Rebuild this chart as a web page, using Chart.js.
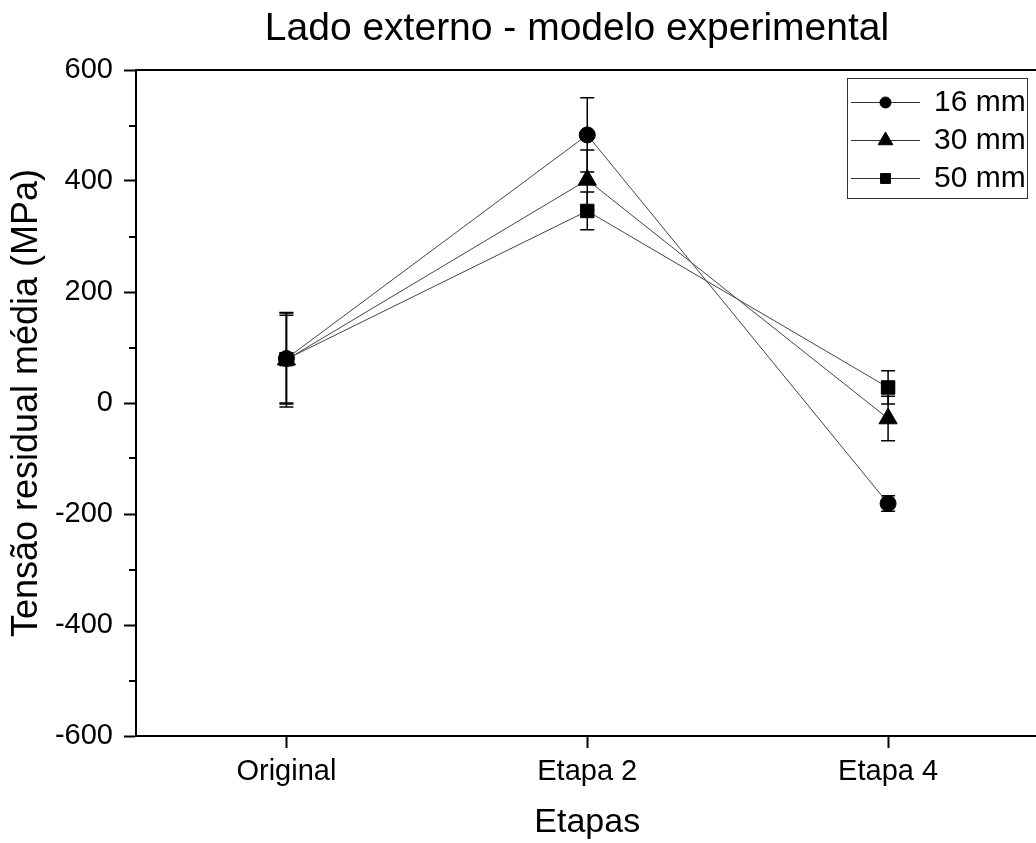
<!DOCTYPE html>
<html>
<head>
<meta charset="utf-8">
<script src="https://cdn.jsdelivr.net/npm/chart.js@4.4.0/dist/chart.umd.min.js"></script>
<style>
  html, body { margin: 0; padding: 0; background: #fff; overflow: hidden; }
  #wrap { width: 1050px; height: 843px; }
</style>
</head>
<body>
<div id="wrap"><canvas id="c" width="1050" height="843"></canvas></div>
<script>
// ---- data ----
const categories = ['Original', 'Etapa 2', 'Etapa 4'];
const seriesLabels = ['16 mm', '30 mm', '50 mm'];
const values16 = [80, 483, -181];
const errors16 = [82, 67, 14];
const values30 = [78, 402, -28];
const errors30 = [85, 54, 40];
const values50 = [79, 346, 28];
const errors50 = [79, 34, 30];
const pointStyles = ['circle', 'triangle', 'rect'];
const yMin = -600, yMax = 600, yMajorStep = 200, yMinorStep = 100;
const titleText = 'Lado externo - modelo experimental';
const xTitleText = 'Etapas';
const yTitleText = 'Tensão residual média (MPa)';

const FONT = "'Liberation Sans', Arial, sans-serif";
const allValues = [values16, values30, values50];
const allErrors = [errors16, errors30, errors50];
const pointRadii = [8, 10.5, 9.5];
const legendRadii = [5.5, 8.5, 7];

const datasets = allValues.map((vals, i) => ({
  label: seriesLabels[i],
  data: vals,
  errors: allErrors[i],
  borderColor: '#444444',
  borderWidth: 1,
  backgroundColor: '#000',
  pointStyle: pointStyles[i],
  pointRadius: pointRadii[i],
  pointBackgroundColor: '#000',
  pointBorderColor: '#000',
  pointBorderWidth: 1,
  tension: 0
}));

const decorPlugin = {
  id: 'decor',
  beforeDatasetsDraw(chart) {
    const ctx = chart.ctx;
    const y = chart.scales.y;
    const a = chart.chartArea;
    ctx.save();
    // minor ticks
    ctx.strokeStyle = '#000';
    ctx.lineWidth = 2;
    for (let v = yMin; v <= yMax; v += yMinorStep) {
      if (v % yMajorStep === 0) continue;
      const py = Math.round(y.getPixelForValue(v));
      ctx.beginPath();
      ctx.moveTo(a.left - 7, py);
      ctx.lineTo(a.left, py);
      ctx.stroke();
    }
    // error bars
    ctx.lineWidth = 1.5;
    chart.data.datasets.forEach((ds, i) => {
      const meta = chart.getDatasetMeta(i);
      ds.data.forEach((v, j) => {
        const e = ds.errors[j];
        const px = meta.data[j].x;
        const yt = y.getPixelForValue(v + e);
        const yb = y.getPixelForValue(v - e);
        ctx.beginPath();
        ctx.moveTo(px, yt); ctx.lineTo(px, yb);
        ctx.moveTo(px - 7, yt); ctx.lineTo(px + 7, yt);
        ctx.moveTo(px - 7, yb); ctx.lineTo(px + 7, yb);
        ctx.stroke();
      });
    });
    ctx.restore();
  },
  afterDraw(chart) {
    const ctx = chart.ctx;
    const a = chart.chartArea;
    ctx.save();
    // top & right frame
    ctx.strokeStyle = '#000';
    ctx.lineWidth = 2;
    ctx.beginPath();
    ctx.moveTo(a.left, a.top);
    ctx.lineTo(a.right, a.top);
    ctx.lineTo(a.right, a.bottom);
    ctx.stroke();

    // titles
    ctx.fillStyle = '#000';
    ctx.textAlign = 'center';
    ctx.textBaseline = 'middle';
    ctx.font = '39px ' + FONT;
    ctx.fillText(titleText, 577, 29);
    ctx.font = '34px ' + FONT;
    ctx.fillText(xTitleText, (a.left + a.right) / 2, 823);
    ctx.save();
    ctx.translate(27, (a.top + a.bottom) / 2);
    ctx.rotate(-Math.PI / 2);
    ctx.font = '36px ' + FONT;
    ctx.fillText(yTitleText, 0, 0);
    ctx.restore();

    // legend
    const lx = 847, ly = 78, lw = 180, lh = 120;
    ctx.fillStyle = '#fff';
    ctx.fillRect(lx, ly, lw, lh);
    ctx.strokeStyle = '#333';
    ctx.lineWidth = 1;
    ctx.strokeRect(lx + 0.5, ly + 0.5, lw, lh);
    const rows = [102, 140, 178];
    chart.data.datasets.forEach((ds, i) => {
      const ry = rows[i];
      ctx.strokeStyle = '#333';
      ctx.lineWidth = 1;
      ctx.beginPath();
      ctx.moveTo(851, ry + 0.5);
      ctx.lineTo(920, ry + 0.5);
      ctx.stroke();
      ctx.fillStyle = '#000';
      ctx.strokeStyle = '#000';
      Chart.helpers.drawPoint(ctx, { pointStyle: ds.pointStyle, radius: legendRadii[i], borderWidth: 1 }, 885.5, ry + 0.5);
      ctx.fillStyle = '#000';
      ctx.textAlign = 'left';
      ctx.textBaseline = 'middle';
      ctx.font = '30px ' + FONT;
      ctx.fillText(ds.label, 934, ry + 1);
    });
    ctx.restore();
  }
};

new Chart(document.getElementById('c'), {
  type: 'line',
  data: { labels: categories, datasets },
  options: {
    responsive: false,
    animation: false,
    devicePixelRatio: 1,
    layout: { padding: { top: 70, right: 10, left: 0, bottom: 0 } },
    plugins: { legend: { display: false }, title: { display: false }, tooltip: { enabled: false } },
    scales: {
      x: {
        type: 'category',
        offset: true,
        afterFit(s) { s.height = 107; },
        grid: { offset: false, drawOnChartArea: false, tickLength: 12, tickWidth: 2, color: '#000' },
        border: { display: true, color: '#000', width: 2 },
        ticks: { color: '#000', font: { family: FONT, size: 29 }, padding: 7, maxRotation: 0 }
      },
      y: {
        min: yMin, max: yMax,
        afterFit(s) { s.width = 136; },
        grid: {
          drawOnChartArea: false, tickLength: 12, tickWidth: 2,
          color: (c) => (c.tick && c.tick.value % yMajorStep === 0) ? '#000' : 'rgba(0,0,0,0)'
        },
        border: { display: true, color: '#000', width: 2 },
        ticks: {
          stepSize: yMinorStep, autoSkip: false, color: '#000',
          font: { family: FONT, size: 29 }, padding: 11,
          callback: (v) => (v % yMajorStep === 0 ? String(v) : '')
        }
      }
    }
  },
  plugins: [decorPlugin]
});
</script>
</body>
</html>
